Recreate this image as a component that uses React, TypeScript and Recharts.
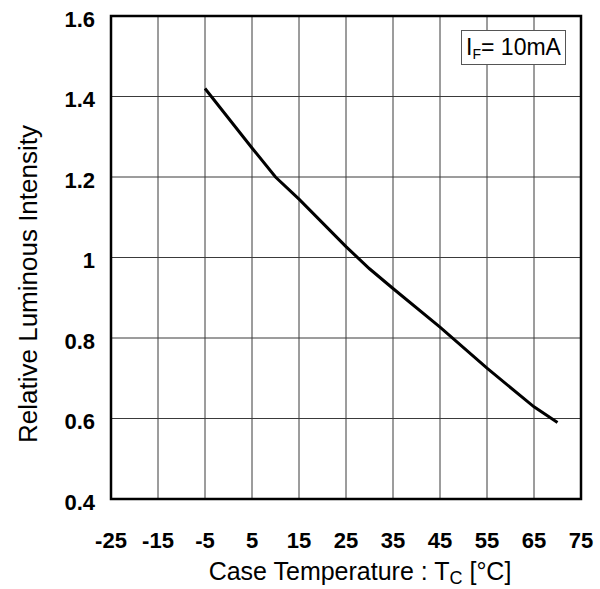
import { CartesianGrid, Label, Line, LineChart, ReferenceArea, XAxis, YAxis } from "recharts";

const temps = [-5, 5, 10, 15, 25, 30, 35, 45, 55, 65, 70];
const intensity = [1.42, 1.272, 1.2, 1.145, 1.027, 0.972, 0.923, 0.827, 0.725, 0.629, 0.59];

const xTicks = [-25, -15, -5, 5, 15, 25, 35, 45, 55, 65, 75];
const yTicks = [0.4, 0.6, 0.8, 1, 1.2, 1.4, 1.6];

const data = temps.map((t, i) => ({ temp: t, value: intensity[i] }));

const FONT = "'Liberation Sans', Arial, sans-serif";

export default function App() {
  return (
    <div style={{ position: "absolute", left: 0, top: 0, width: 600, height: 589, background: "#fff" }}>
      <LineChart width={600} height={589} data={data} margin={{ top: 16, right: 19, bottom: 0, left: 0 }}>
        <CartesianGrid stroke="#3a3a3a" strokeWidth={1} />
        <XAxis
          type="number"
          dataKey="temp"
          domain={[-25, 75]}
          ticks={xTicks}
          interval={0}
          height={90}
          tickLine={false}
          tickSize={0}
          tickMargin={33}
          axisLine={false}
          tick={{ fill: "#000", fontFamily: FONT, fontSize: 22, fontWeight: "bold" }}
        >
          <Label
            content={() => (
              <text x={360} y={580} textAnchor="middle" fontFamily={FONT} fontSize={25} fill="#000">
                <tspan>Case Temperature : T</tspan>
                <tspan fontSize={18} dy={4}>C</tspan>
                <tspan dy={-4}> [°C]</tspan>
              </text>
            )}
          />
        </XAxis>
        <YAxis
          type="number"
          domain={[0.4, 1.6]}
          ticks={yTicks}
          interval={0}
          width={111}
          tickLine={false}
          tickSize={0}
          tickMargin={16}
          axisLine={false}
          tick={{ fill: "#000", fontFamily: FONT, fontSize: 22, fontWeight: "bold", dy: 3 }}
        >
          <Label
            content={() => (
              <text
                x={28}
                y={284}
                transform="rotate(-90 28 284)"
                textAnchor="middle"
                dominantBaseline="central"
                fontFamily={FONT}
                fontSize={26}
                fill="#000"
              >
                Relative Luminous Intensity
              </text>
            )}
          />
        </YAxis>
        <ReferenceArea x1={-25} x2={75} y1={0.4} y2={1.6} fill="none" stroke="#000" strokeWidth={2.5} ifOverflow="visible" />
        <Line
          type="linear"
          dataKey="value"
          stroke="#000"
          strokeWidth={3}
          dot={false}
          isAnimationActive={false}
        />
      </LineChart>
      <div
        style={{
          position: "absolute",
          left: 461,
          top: 30,
          width: 103,
          height: 33,
          border: "1px solid #555",
          background: "#fff",
          fontFamily: FONT,
          fontSize: 23,
          lineHeight: "33px",
          textAlign: "center",
          color: "#000",
        }}
      >
        I<sub style={{ fontSize: 14, verticalAlign: "-4px", lineHeight: 0 }}>F</sub>= 10mA
      </div>
    </div>
  );
}
